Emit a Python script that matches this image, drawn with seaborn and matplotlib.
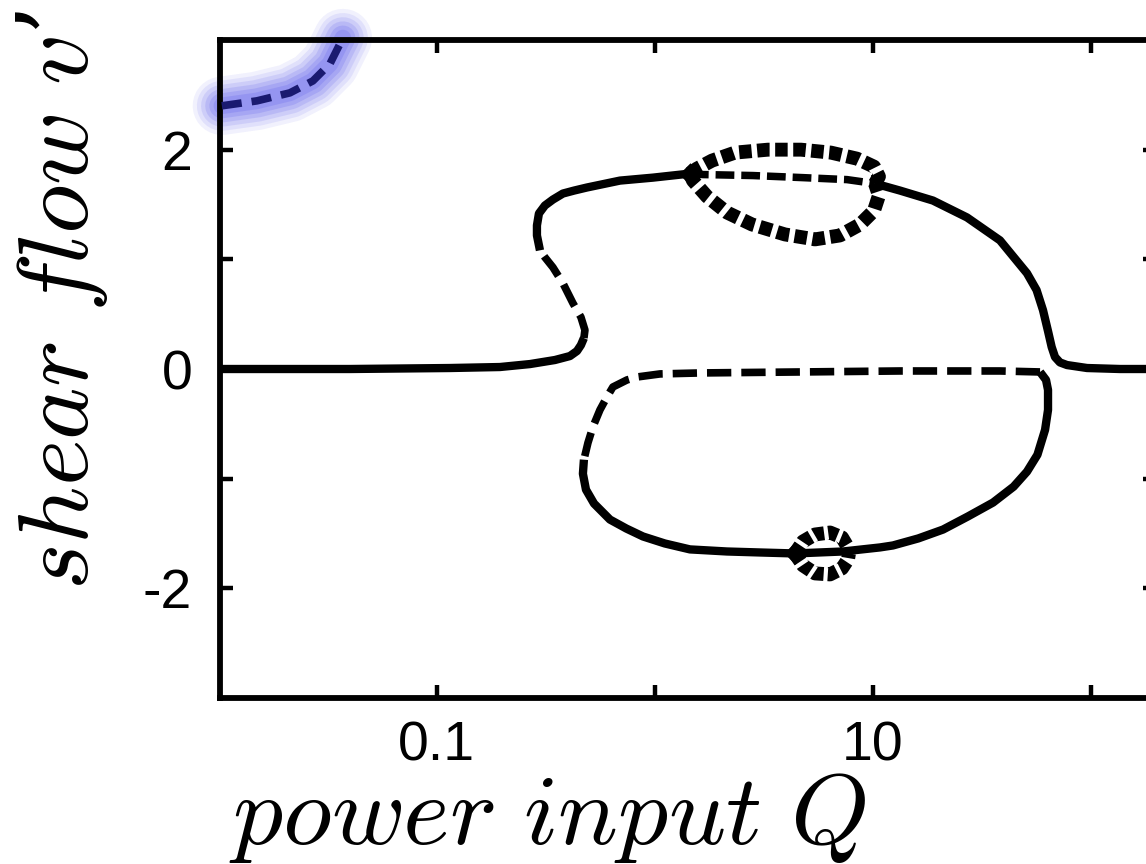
import matplotlib
matplotlib.use("Agg")
import matplotlib.pyplot as plt
import seaborn as sns
from matplotlib.ticker import FixedLocator, FixedFormatter, NullLocator

# ---------------- data (power input Q, shear flow v') ----------------
# zero branch + lower part of the fold (stable, solid)
q_zero_left = [0.0101, 0.0399, 0.1147, 0.1945, 0.2671, 0.3478, 0.4074, 0.4390, 0.4576, 0.4723]
v_zero_left = [0.0, 0.0, 0.009, 0.018, 0.045, 0.082, 0.118, 0.164, 0.218, 0.282]
# unstable middle part of the upper fold (dashed)
q_fold_up = [0.4723, 0.4774, 0.4576, 0.4206, 0.3784, 0.3404, 0.3129, 0.2969]
v_fold_up = [0.282, 0.355, 0.473, 0.600, 0.782, 0.927, 1.018, 1.082]
# stable upper branch up to the first Hopf point (solid)
q_upper_a = [0.2969, 0.2876, 0.2876, 0.2937, 0.3129, 0.3404, 0.3784, 0.4256, 0.4876, 0.6909, 0.9790, 1.447]
v_upper_a = [1.082, 1.218, 1.309, 1.418, 1.491, 1.545, 1.600, 1.627, 1.655, 1.718, 1.745, 1.782]
# unstable upper branch between Hopf points (dashed)
q_upper_b = [1.447, 1.660, 2.815, 4.774, 7.598, 10.21]
v_upper_b = [1.782, 1.773, 1.764, 1.745, 1.727, 1.691]
# stable upper branch back to zero + right zero branch (solid)
q_upper_c = [10.21, 13.30, 18.84, 26.99, 38.23, 50.85, 56.26, 60.23, 63.50, 66.00, 68.37, 72.00, 77.61, 95.87, 135.8, 207.3]
v_upper_c = [1.691, 1.627, 1.536, 1.382, 1.173, 0.873, 0.720, 0.536, 0.345, 0.200, 0.109, 0.060, 0.036, 0.009, 0.0, 0.0]
# lower loop: unstable top and left side (dashed)
q_lower_a = [58.36, 38.23, 13.30, 4.624, 1.608, 1.054, 0.8266, 0.7437, 0.6415, 0.6024, 0.5594, 0.5195, 0.4929, 0.4723]
v_lower_a = [-0.027, -0.018, -0.018, -0.027, -0.036, -0.045, -0.073, -0.100, -0.164, -0.255, -0.373, -0.527, -0.673, -0.827]
# lower loop: stable bottom and right side (solid)
q_lower_b = [0.4723, 0.4673, 0.4826, 0.5256, 0.6218, 0.7397, 0.8810, 1.110, 1.447, 2.140, 3.031, 4.387, 7.284,
             10.77, 12.35, 16.13, 20.95, 27.22, 35.52, 44.14, 50.85, 56.78, 61.54, 63.50, 63.50, 62.17, 58.36]
v_lower_b = [-0.827, -0.955, -1.100, -1.227, -1.373, -1.455, -1.527, -1.591, -1.645, -1.664, -1.673, -1.682, -1.664,
             -1.627, -1.609, -1.545, -1.464, -1.345, -1.218, -1.073, -0.936, -0.782, -0.555, -0.373, -0.191, -0.100, -0.027]
# periodic-orbit envelope around the upper Hopf pair (thick dotted)
q_orbit_max = [1.447, 1.558, 1.826, 2.328, 3.299, 4.674, 6.417, 8.446, 10.11, 10.65, 10.21]
v_orbit_max = [1.782, 1.827, 1.900, 1.973, 2.000, 2.000, 1.973, 1.918, 1.845, 1.755, 1.691]
q_orbit_min = [1.447, 1.494, 1.732, 2.140, 2.786, 3.948, 5.420, 7.058, 8.718, 10.11, 10.65, 10.21]
v_orbit_min = [1.782, 1.718, 1.573, 1.427, 1.318, 1.227, 1.182, 1.218, 1.318, 1.445, 1.582, 1.691]
# small periodic-orbit envelope on the lower branch (thick dotted)
q_small_max = [4.387, 4.774, 5.420, 6.353, 7.209, 7.679, 7.761]
v_small_max = [-1.682, -1.573, -1.509, -1.491, -1.536, -1.627, -1.682]
q_small_min = [4.387, 4.774, 5.420, 6.353, 7.209, 7.679, 7.761]
v_small_min = [-1.682, -1.791, -1.864, -1.873, -1.818, -1.736, -1.682]
# Hopf points
q_hopf = [1.447, 4.387]
v_hopf = [1.782, -1.682]
# highlighted branch in the top-left corner
q_blue = [0.01032, 0.01494, 0.02117, 0.02699, 0.03230, 0.03589, 0.03705]
v_blue = [2.400, 2.445, 2.518, 2.627, 2.782, 2.964, 3.018]

x_ticks = [0.1, 1, 10, 100]
x_ticklabels = ["0.1", "", "10", ""]
y_ticks = [-2, -1, 0, 1, 2]
y_ticklabels = ["-2", "", "0", "", "2"]
x_limits = (0.01012, 198.6)
y_limits = (-3, 3)

# ---------------- style ----------------
sns.set_theme(style="ticks")
plt.rcParams["font.family"] = ["Liberation Sans", "DejaVu Sans"]
plt.rcParams["mathtext.fontset"] = "cm"
plt.rcParams["lines.scale_dashes"] = False

W, H = 1146, 864
fig = plt.figure(figsize=(W / 100, H / 100), dpi=100)
ax = fig.add_axes([220 / W, 1 - 698 / H, 936 / W, 658 / H])
ax.set_xscale("log")


def curve(q, v, kind, color="black", lw=6.0, on=17.5, off=7.2, clip=True, alpha=1.0, cap="butt", z=3):
    sns.lineplot(x=q, y=v, sort=False, estimator=None, ax=ax, color=color, linewidth=lw, alpha=alpha)
    ln = ax.lines[-1]
    ln.set_zorder(z)
    ln.set_clip_on(clip)
    ln.set_solid_capstyle(cap)
    ln.set_dash_capstyle("butt")
    ln.set_solid_joinstyle("round")
    ln.set_dash_joinstyle("round")
    if kind == "dash":
        ln.set_dashes([on, off])
    return ln


# blue highlight band (soft, blurred look)
for width, a in [(42, 0.07), (36, 0.09), (30, 0.11), (24, 0.13), (18, 0.15), (12, 0.15)]:
    curve(q_blue, v_blue, "solid", color="#3a3ae8", lw=width, clip=False, alpha=a, cap="round", z=2)
curve(q_blue, v_blue, "dash", color="#1a1a70", lw=5.5, on=14.4, off=7.2, clip=False, z=4)

# bifurcation branches
curve(q_zero_left, v_zero_left, "solid")
curve(q_fold_up, v_fold_up, "dash", lw=5.5)
curve(q_upper_a, v_upper_a, "solid")
curve(q_upper_b, v_upper_b, "dash", lw=5.4, on=13.5, off=5.0)
curve(q_upper_c, v_upper_c, "solid")
curve(q_lower_a, v_lower_a, "dash", lw=5.5)
curve(q_lower_b, v_lower_b, "solid")

# periodic orbit envelopes
for q, v in [(q_orbit_max, v_orbit_max), (q_orbit_min, v_orbit_min)]:
    curve(q, v, "dash", lw=10.0, on=9.0, off=4.0)
for q, v in [(q_small_max, v_small_max), (q_small_min, v_small_min)]:
    curve(q, v, "dash", lw=10.0, on=7.0, off=3.0)

sns.scatterplot(x=q_hopf, y=v_hopf, ax=ax, marker="D", s=130, color="black", edgecolor="black",
                linewidth=0, zorder=5)

# ---------------- axes ----------------
ax.set_xlim(*x_limits)
ax.set_ylim(*y_limits)
ax.xaxis.set_major_locator(FixedLocator(x_ticks))
ax.xaxis.set_major_formatter(FixedFormatter(x_ticklabels))
ax.xaxis.set_minor_locator(NullLocator())
ax.yaxis.set_major_locator(FixedLocator(y_ticks))
ax.yaxis.set_major_formatter(FixedFormatter(y_ticklabels))
ax.yaxis.set_minor_locator(NullLocator())
ax.tick_params(which="major", direction="in", length=9.5, width=3.2, color="black",
               top=True, right=True, labelsize=40, labelcolor="black")
ax.tick_params(axis="x", pad=16)
ax.tick_params(axis="y", pad=20)
for sp in ax.spines.values():
    sp.set_linewidth(4.2)
    sp.set_color("black")
    sp.set_visible(True)

ax.set_xlabel(r"$power\ input\ Q$", fontsize=72, family=["DejaVu Serif"], color="black",
              va="baseline")
ax.set_ylabel(r"$shear\ flow\ v$’", fontsize=72, family=["DejaVu Serif"], color="black")
ax.xaxis.set_label_coords(0.35, -0.222)
ax.yaxis.set_label_coords(-0.118, 0.605)

fig.savefig("out.png", dpi=100)
